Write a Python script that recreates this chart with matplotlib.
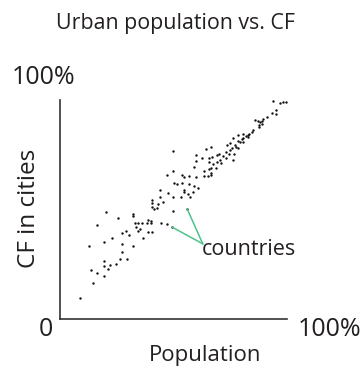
import numpy as np
import matplotlib.pyplot as plt

plt.rcParams['font.family'] = ['Open Sans', 'DejaVu Sans']

# share of population living in cities (%), one point per country
populacao = [12.8, 27.4, 32.2, 26.6, 29.4, 19.3, 24.5, 21.9, 19.3, 13.7, 21.0, 16.4, 19.3, 14.5, 8.9,
             20.1, 25.7, 32.0, 32.0, 32.9, 16.4, 29.2, 27.4, 30.3, 22.8, 19.3, 27.4,
             47.0, 49.6, 53.6, 54.6, 56.8, 59.9, 63.6, 63.6, 65.3, 50.2, 51.4, 53.6, 56.8, 59.0,
             60.8, 54.8, 54.6, 56.5, 58.7, 44.1, 47.7, 49.6, 44.1, 53.3, 57.4, 40.7, 40.7, 43.0,
             45.2, 40.4, 41.4, 42.6, 49.6, 56.1, 38.9, 40.0, 40.0, 38.5, 36.3, 34.5, 44.4, 47.0,
             33.5, 35.2, 34.2, 38.6, 40.7, 49.5, 36.7,
             49.6, 64.3, 59.8, 62.6, 65.6, 65.6, 59.8, 58.9, 65.6,
             94.0, 96.9, 98.4, 99.4, 95.0, 93.3, 95.0, 91.3, 89.6, 86.0, 87.1, 88.1, 88.8, 89.1,
             87.8, 87.5, 85.2, 84.4, 83.4, 82.7, 81.9, 82.7, 80.8, 78.3, 76.3, 80.8, 80.0, 78.5,
             79.3, 80.8, 74.9, 73.7, 77.1, 77.4, 78.5, 75.9, 74.9, 73.1, 74.6, 76.7, 71.9, 73.1,
             70.2, 69.0, 66.4, 66.8, 70.5, 69.0, 67.3, 68.7, 66.5, 76.3, 70.9, 66.4, 66.4]

# share of the carbon footprint produced in cities (%)
cf_cidades = [33.3, 30.6, 33.3, 27.3, 27.3, 26.5, 25.3, 24.8, 24.1, 22.5, 22.7, 21.1, 19.6, 16.4, 9.5,
              48.9, 46.0, 47.8, 46.9, 43.7, 42.8, 40.3, 39.3, 38.4, 37.0, 35.2, 34.4,
              65.8, 67.7, 65.8, 64.7, 65.4, 64.7, 67.4, 65.2, 65.2, 62.0, 61.5, 62.0, 61.5, 60.7,
              59.7, 58.9, 57.9, 57.1, 57.9, 58.9, 57.4, 55.6, 55.8, 55.6, 55.6, 54.3, 52.8, 52.4,
              53.4, 51.0, 50.2, 50.5, 49.5, 50.1, 45.2, 44.7, 43.7, 44.0, 44.0, 43.7, 44.0, 43.4,
              42.1, 41.1, 40.2, 39.9, 39.6, 41.9, 36.8,
              76.7, 77.6, 74.9, 73.7, 73.4, 71.8, 72.1, 69.4, 68.5,
              99.5, 98.5, 98.9, 99.2, 95.4, 93.9, 93.5, 92.4, 91.2, 90.7, 90.4, 90.1, 90.6, 89.2,
              88.6, 87.5, 86.4, 85.3, 84.6, 84.2, 83.7, 83.2, 84.5, 84.0, 82.8, 82.5, 82.2, 81.3,
              81.0, 80.7, 80.5, 79.5, 79.5, 78.4, 77.9, 77.9, 77.2, 76.4, 75.3, 75.3, 74.4, 73.7,
              75.2, 74.9, 78.7, 74.1, 72.5, 71.6, 70.6, 69.1, 69.1, 72.6, 71.1, 66.5, 65.8]

# the two countries pointed at by the label
destaque_x = [56.1, 49.5]
destaque_y = [50.1, 41.9]
rotulo = 'countries'

W, H = 364, 372
fig = plt.figure(figsize=(W / 100, H / 100), dpi=100)
ax = fig.add_axes([60 / W, 1 - 319 / H, 227 / W, 219 / H])

cor_texto = '#231f20'
verde = '#4cc38a'

ax.scatter(populacao, cf_cidades, s=3, color='#111111', linewidths=0)

ax.set_xlim(0, 100)
ax.set_ylim(0, 100)
for lado in ['top', 'right']:
    ax.spines[lado].set_visible(False)
for lado in ['left', 'bottom']:
    ax.spines[lado].set_color('#333333')
    ax.spines[lado].set_linewidth(1.2)
ax.set_xticks([])
ax.set_yticks([])

for x, y in zip(destaque_x, destaque_y):
    ax.plot([x, 62.9], [y, 34.3], color=verde, lw=1.1, clip_on=False)
ax.text(62.5, 31.6, rotulo, fontsize=15.5, color=cor_texto, va='center', ha='left')

fig.text(176 / W, 1 - 23 / H, 'Urban population vs. CF', fontsize=15.4,
         color=cor_texto, ha='center', va='center')
fig.text(44 / W, 1 - 78 / H, '100%', fontsize=18, color=cor_texto, ha='center', va='center')
fig.text(46 / W, 1 - 330 / H, '0', fontsize=18, color=cor_texto, ha='center', va='center')
fig.text(329.5 / W, 1 - 330 / H, '100%', fontsize=18, color=cor_texto, ha='center', va='center')
fig.text(205 / W, 1 - 355 / H, 'Population', fontsize=16, color=cor_texto, ha='center', va='center')
fig.text(29 / W, 1 - 208 / H, 'CF in cities', fontsize=17.5, color=cor_texto,
         ha='center', va='center', rotation=90)

fig.savefig('out.png', dpi=100)
